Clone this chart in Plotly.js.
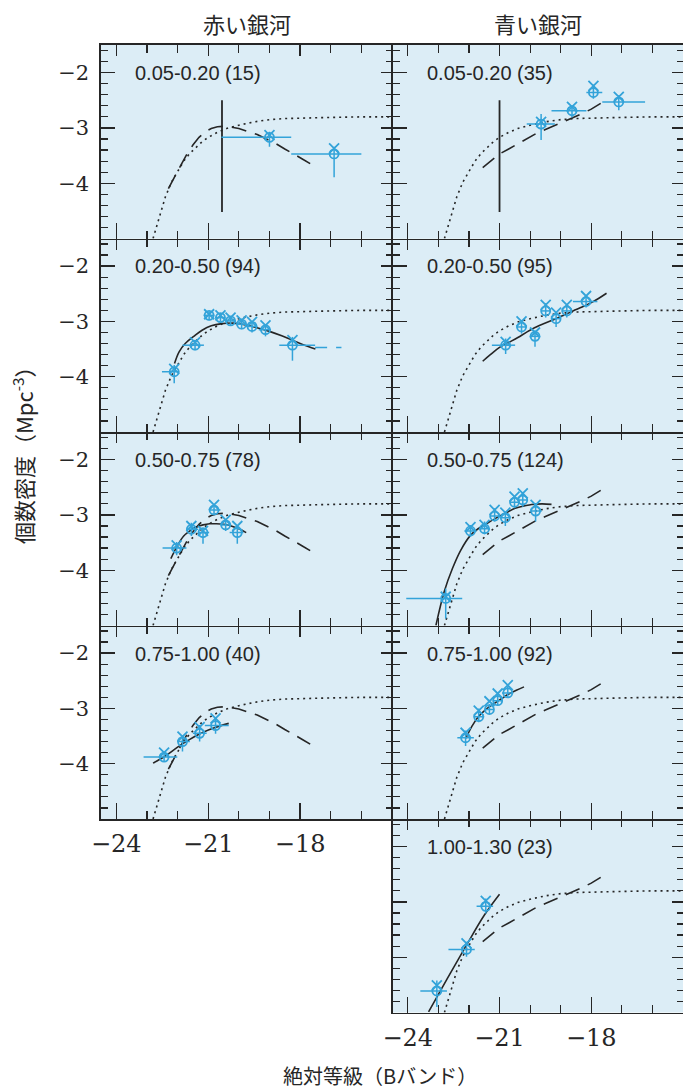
<!DOCTYPE html>
<html><head><meta charset="utf-8">
<script src="https://cdn.plot.ly/plotly-3.0.1.min.js"></script>
<style>html,body{margin:0;padding:0;background:#fff;}#chart{width:683px;height:1090px;}</style>
</head><body><div id="chart"></div>
<script>
// ---------- data ----------
const panelLabels = ["0.05-0.20 (15)","0.05-0.20 (35)","0.20-0.50 (94)","0.20-0.50 (95)","0.50-0.75 (78)","0.50-0.75 (124)","0.75-1.00 (40)","0.75-1.00 (92)","1.00-1.30 (23)"];
const columnTitles = ["赤い銀河","青い銀河"];
const xTitle = "絶対等級（Bバンド）";
const yTitle = "個数密度（Mpc<sup>-3</sup>）";
const xTicks = [-24,-21,-18];
const yTicks = [-2,-3,-4];

// local reference luminosity function (dotted)
const schM   = [-22.8,-22.6,-22.4,-22.2,-22.0,-21.8,-21.6,-21.4,-21.2,-21.0,-20.7,-20.4,-20.0,-19.5,-19.0,-18.5,-18.0,-17.0,-16.0,-15.0];
const schPhi = [-5.0,-4.6,-4.25,-3.98,-3.78,-3.6,-3.46,-3.35,-3.25,-3.17,-3.08,-3.01,-2.95,-2.89,-2.85,-2.83,-2.82,-2.81,-2.80,-2.80];
// red reference (dashed)
const redRefM   = [-22.3,-22.1,-21.9,-21.7,-21.5,-21.3,-21.1,-20.9,-20.7,-20.5,-20.3,-20.0,-19.7,-19.4,-19.1,-18.8,-18.5,-18.2,-17.9,-17.6];
const redRefPhi = [-4.1,-3.88,-3.68,-3.48,-3.31,-3.17,-3.07,-3.01,-2.98,-2.97,-2.98,-3.01,-3.06,-3.12,-3.2,-3.28,-3.38,-3.47,-3.57,-3.67];
// blue reference (dashed) = blue 0.20-0.50 fit
const blueRefM   = [-21.55,-21.3,-21.0,-20.7,-20.4,-20.1,-19.8,-19.5,-19.2,-18.9,-18.6,-18.3,-18.0,-17.75,-17.5];
const blueRefPhi = [-3.72,-3.6,-3.47,-3.38,-3.29,-3.19,-3.1,-3.03,-2.96,-2.89,-2.81,-2.74,-2.66,-2.58,-2.49];
// solid fits
const r2FitM   = [-22.1,-21.95,-21.75,-21.45,-21.2,-20.9,-20.55,-20.2,-19.9,-19.5,-19.0,-18.6,-18.25,-17.9,-17.5];
const r2FitPhi = [-3.76,-3.55,-3.40,-3.26,-3.16,-3.08,-3.04,-3.03,-3.05,-3.1,-3.18,-3.26,-3.34,-3.42,-3.5];
const r3FitM   = [-22.22,-22.0,-21.8,-21.6,-21.4,-21.17,-20.95,-20.73,-20.5,-20.3,-20.0,-19.76];
const r3FitPhi = [-3.79,-3.55,-3.38,-3.29,-3.22,-3.18,-3.16,-3.16,-3.17,-3.19,-3.25,-3.32];
const r4FitM   = [-22.8,-22.4,-22.0,-21.6,-21.2,-20.8,-20.33];
const r4FitPhi = [-3.99,-3.86,-3.70,-3.56,-3.44,-3.35,-3.27];
const b3FitM   = [-23.08,-22.81,-22.54,-22.27,-21.95,-21.7,-21.46,-21.03,-20.75,-20.49,-20.2,-19.95,-19.6,-19.3];
const b3FitPhi = [-5.0,-4.39,-3.97,-3.64,-3.37,-3.25,-3.17,-3.03,-2.95,-2.88,-2.84,-2.81,-2.80,-2.81];
const b4FitM   = [-22.1,-21.9,-21.68,-21.45,-21.2,-20.95,-20.7,-20.45,-20.2];
const b4FitPhi = [-3.54,-3.32,-3.14,-3.02,-2.92,-2.83,-2.74,-2.67,-2.61];
const b5FitM   = [-23.32,-22.7,-22.1,-21.5,-21.0];
const b5FitPhi = [-4.99,-4.38,-3.8,-3.24,-2.86];
// magnitude limits (vertical black lines, top row)
const limitM = [-20.55,-21.0];
const limitPhi = [-2.5,-4.52];
// extra dashed x-range for last red 0.20-0.50 point
const r2ExtM = [-17.51,-16.65];
const r2ExtPhi = [-3.47,-3.47];

// data points: M, logPhi (circle), logPhi (cross), bin edges, error edges
const r1M=[-19.0,-16.89], r1Phi=[-3.17,-3.47], r1PhiX=[-3.13,-3.37], r1MLo=[-20.57,-18.29], r1MHi=[-18.29,-16.0], r1PLo=[-3.34,-3.89], r1PHi=[-3.07,-3.34];
const b1M=[-19.64,-18.63,-17.93,-17.1], b1Phi=[-2.93,-2.69,-2.36,-2.53], b1PhiX=[-2.89,-2.62,-2.24,-2.44], b1MLo=[-20.11,-19.3,-18.16,-17.64], b1MHi=[-19.19,-18.16,-17.64,-16.24], b1PLo=[-3.22,-2.81,-2.47,-2.68], b1PHi=[-2.75,-2.59,-2.22,-2.41];
const r2M=[-22.11,-21.43,-20.97,-20.6,-20.27,-19.91,-19.57,-19.13,-18.25], r2Phi=[-3.91,-3.43,-2.89,-2.93,-2.99,-3.05,-3.09,-3.15,-3.43], r2PhiX=[-3.86,-3.38,-2.87,-2.89,-2.93,-2.98,-3.01,-3.07,-3.34];
const r2MLo=[-22.51,-21.84,-21.15,-20.78,-20.45,-20.1,-19.77,-19.35,-18.68], r2MHi=[-21.95,-21.14,-20.8,-20.44,-20.1,-19.75,-19.4,-18.95,-17.51], r2PLo=[-4.12,-3.52,-2.98,-3.0,-3.07,-3.14,-3.2,-3.27,-3.71], r2PHi=[-3.79,-3.34,-2.82,-2.86,-2.92,-2.95,-3.0,-3.05,-3.28];
const b2M=[-20.8,-20.28,-19.84,-19.49,-19.15,-18.8,-18.17], b2Phi=[-3.43,-3.10,-3.27,-2.81,-2.95,-2.81,-2.64], b2PhiX=[-3.37,-3.0,-3.2,-2.70,-2.84,-2.70,-2.54];
const b2MLo=[-21.25,-20.45,-20.0,-19.65,-19.3,-18.97,-18.6], b2MHi=[-20.49,-20.1,-19.68,-19.33,-19.0,-18.63,-17.8], b2PLo=[-3.59,-3.22,-3.46,-2.93,-3.10,-2.93,-2.75], b2PHi=[-3.31,-2.98,-3.16,-2.67,-2.83,-2.70,-2.52];
const r3M=[-22.03,-21.55,-21.17,-20.81,-20.43,-20.05], r3Phi=[-3.60,-3.26,-3.32,-2.91,-3.18,-3.32], r3PhiX=[-3.55,-3.20,-3.29,-2.82,-3.09,-3.20];
const r3MLo=[-22.49,-21.71,-21.33,-20.97,-20.6,-20.3], r3MHi=[-21.71,-21.33,-20.97,-20.6,-20.25,-19.85], r3PLo=[-3.73,-3.38,-3.52,-3.0,-3.29,-3.52], r3PHi=[-3.49,-3.14,-3.24,-2.82,-3.09,-3.21];
const b3M=[-22.76,-21.95,-21.49,-21.16,-20.81,-20.51,-20.24,-19.82], b3Phi=[-4.51,-3.29,-3.25,-3.02,-3.05,-2.77,-2.73,-2.93], b3PhiX=[-4.48,-3.22,-3.18,-2.91,-2.96,-2.67,-2.61,-2.82];
const b3MLo=[-24.05,-22.15,-21.65,-21.3,-20.97,-20.65,-20.38,-20.0], b3MHi=[-22.22,-21.75,-21.33,-21.0,-20.65,-20.38,-20.1,-19.62], b3PLo=[-4.88,-3.4,-3.35,-3.12,-3.2,-2.88,-2.85,-3.12], b3PHi=[-4.33,-3.18,-3.12,-2.88,-2.94,-2.66,-2.6,-2.79];
const r4M=[-22.44,-21.84,-21.28,-20.76], r4Phi=[-3.88,-3.60,-3.45,-3.31], r4PhiX=[-3.80,-3.51,-3.34,-3.18];
const r4MLo=[-23.11,-22.01,-21.5,-21.11], r4MHi=[-22.01,-21.6,-21.05,-20.33], r4PLo=[-3.96,-3.78,-3.6,-3.46], r4PHi=[-3.78,-3.49,-3.3,-3.16];
const b4M=[-22.11,-21.68,-21.33,-21.06,-20.73], b4Phi=[-3.53,-3.15,-3.02,-2.86,-2.72], b4PhiX=[-3.44,-3.04,-2.87,-2.73,-2.58];
const b4MLo=[-22.38,-21.85,-21.5,-21.22,-20.92], b4MHi=[-21.84,-21.5,-21.2,-20.9,-20.55], b4PLo=[-3.68,-3.25,-3.1,-2.95,-2.8], b4PHi=[-3.40,-3.0,-2.92,-2.75,-2.6];
const b5M=[-23.05,-22.08,-21.45], b5Phi=[-4.61,-3.86,-3.08], b5PhiX=[-4.51,-3.75,-2.98];
const b5MLo=[-23.59,-22.67,-21.75], b5MHi=[-22.72,-21.81,-21.21], b5PLo=[-4.90,-3.99,-3.21], b5PHi=[-4.42,-3.72,-2.94];

// ---------- layout helpers ----------
const W=683, H=1090;
const colPx = [[101,392],[392.5,683]];
const rowPx = [[45,238.5],[238.5,432],[432,625.5],[625.5,819],[819,1012.5]];
const BLUE = '#33a3d9', INK = '#262626';
const px2x = p => p/W, py2y = p => 1 - p/H;
const XR = [-24.5,-15], YR = [-5,-1.5];

const panels = [
  {col:0,row:0,pts:[r1M,r1Phi,r1PhiX,r1MLo,r1MHi,r1PLo,r1PHi], dash:[redRefM,redRefPhi], solid:null, limit:0},
  {col:1,row:0,pts:[b1M,b1Phi,b1PhiX,b1MLo,b1MHi,b1PLo,b1PHi], dash:[blueRefM,blueRefPhi], solid:null, limit:1},
  {col:0,row:1,pts:[r2M,r2Phi,r2PhiX,r2MLo,r2MHi,r2PLo,r2PHi], dash:null, solid:[r2FitM,r2FitPhi], ext:[r2ExtM,r2ExtPhi]},
  {col:1,row:1,pts:[b2M,b2Phi,b2PhiX,b2MLo,b2MHi,b2PLo,b2PHi], dash:null, solid:[blueRefM,blueRefPhi]},
  {col:0,row:2,pts:[r3M,r3Phi,r3PhiX,r3MLo,r3MHi,r3PLo,r3PHi], dash:[redRefM,redRefPhi], solid:[r3FitM,r3FitPhi]},
  {col:1,row:2,pts:[b3M,b3Phi,b3PhiX,b3MLo,b3MHi,b3PLo,b3PHi], dash:[blueRefM,blueRefPhi], solid:[b3FitM,b3FitPhi]},
  {col:0,row:3,pts:[r4M,r4Phi,r4PhiX,r4MLo,r4MHi,r4PLo,r4PHi], dash:[redRefM,redRefPhi], solid:[r4FitM,r4FitPhi], xlabels:true},
  {col:1,row:3,pts:[b4M,b4Phi,b4PhiX,b4MLo,b4MHi,b4PLo,b4PHi], dash:[blueRefM,blueRefPhi], solid:[b4FitM,b4FitPhi]},
  {col:1,row:4,pts:[b5M,b5Phi,b5PhiX,b5MLo,b5MHi,b5PLo,b5PHi], dash:[blueRefM,blueRefPhi], solid:[b5FitM,b5FitPhi], xlabels:true}
];
const NP = panels.length;

const traces = [];
const layout = {
  width: W, height: H, margin:{l:0,r:0,t:0,b:0},
  paper_bgcolor:'#ffffff', plot_bgcolor:'#dcedf6', showlegend:false,
  annotations: [], font:{family:'Liberation Sans', color:INK}
};
const aname = (c,n) => (n===1 ? c+'axis' : c+'axis'+n);
const aid = (c,n) => (n===1 ? c : c+n);

function tickAxis(extra){
  return Object.assign({showgrid:false, zeroline:false, ticks:'inside', tickcolor:INK, tickwidth:1.3,
    linecolor:INK, linewidth:1.6, mirror:false, showticklabels:false}, extra);
}

panels.forEach((p,i)=>{
  const k = i+1, xs = aid('x',k), ys = aid('y',k);
  const cx = colPx[p.col], ry = rowPx[p.row];
  const xdom = [px2x(cx[0]), px2x(cx[1])], ydom = [py2y(ry[1]), py2y(ry[0])];
  const kTop = k+NP, kMinA = k+2*NP, kMinB = k+3*NP;
  // main axes: bottom x / left y with major ticks (+labels where the reference has them)
  layout[aname('x',k)] = tickAxis({domain:xdom, anchor:ys, range:XR, side:'bottom', showline:true,
    tickmode:'array', tickvals:xTicks, ticklen:16, showticklabels:!!p.xlabels, ticklabelstandoff:3,
    tickfont:{family:'DejaVu Serif', size:24, color:INK}});
  layout[aname('y',k)] = tickAxis({domain:ydom, anchor:xs, range:YR, side:'left', showline:true,
    tickmode:'array', tickvals:yTicks, ticklen:14, showticklabels:p.col===0, ticklabelstandoff:6,
    tickfont:{family:'DejaVu Serif', size:21, color:INK}});
  // top x / right y major ticks
  layout[aname('x',kTop)] = tickAxis({domain:xdom, overlaying:xs, anchor:ys, range:XR, side:'top',
    showline:(p.row===0), tickmode:'array', tickvals:xTicks, ticklen:11});
  layout[aname('y',kTop)] = tickAxis({domain:ydom, overlaying:ys, anchor:xs, range:YR, side:'right',
    showline:(p.col===1), tickmode:'array', tickvals:yTicks, ticklen:11});
  // minor ticks bottom/left
  layout[aname('x',kMinA)] = tickAxis({domain:xdom, overlaying:xs, anchor:ys, range:XR, side:'bottom',
    showline:false, tickmode:'linear', tick0:-24, dtick:1, ticklen:8, tickwidth:1.2});
  layout[aname('y',kMinA)] = tickAxis({domain:ydom, overlaying:ys, anchor:xs, range:YR, side:'left',
    showline:false, tickmode:'linear', tick0:-5, dtick:0.2, ticklen:7, tickwidth:1.2});
  // minor ticks top/right
  layout[aname('x',kMinB)] = tickAxis({domain:xdom, overlaying:xs, anchor:ys, range:XR, side:'top',
    showline:false, tickmode:'linear', tick0:-24, dtick:1, ticklen:8, tickwidth:1.2});
  layout[aname('y',kMinB)] = tickAxis({domain:ydom, overlaying:ys, anchor:xs, range:YR, side:'right',
    showline:false, tickmode:'linear', tick0:-5, dtick:0.2, ticklen:6, tickwidth:1.2});
  [kTop,kMinA,kMinB].forEach(n => traces.push({x:[null], y:[null], xaxis:aid('x',n), yaxis:aid('y',n), mode:'markers', hoverinfo:'skip'}));

  // dotted reference
  traces.push({x:schM, y:schPhi, xaxis:xs, yaxis:ys, mode:'lines', line:{color:INK, width:1.6, dash:'2px,4px'}, hoverinfo:'skip'});
  if (p.dash) traces.push({x:p.dash[0], y:p.dash[1], xaxis:xs, yaxis:ys, mode:'lines', line:{color:INK, width:1.6, dash:'15px,9px'}, hoverinfo:'skip'});
  if (p.solid) traces.push({x:p.solid[0], y:p.solid[1], xaxis:xs, yaxis:ys, mode:'lines', line:{color:INK, width:1.6, shape:'spline'}, hoverinfo:'skip'});
  if (p.limit !== undefined) traces.push({x:[limitM[p.limit],limitM[p.limit]], y:limitPhi, xaxis:xs, yaxis:ys, mode:'lines', line:{color:INK, width:1.8}, hoverinfo:'skip'});
  if (p.ext) traces.push({x:p.ext[0], y:p.ext[1], xaxis:xs, yaxis:ys, mode:'lines', line:{color:BLUE, width:1.5, dash:'12px,9px'}, hoverinfo:'skip'});
  const [M, P, PX, MLo, MHi, PLo, PHi] = p.pts;
  traces.push({
    x:M, y:P, xaxis:xs, yaxis:ys, mode:'markers',
    marker:{symbol:'circle-open', size:9, color:BLUE, line:{width:1.8, color:BLUE}},
    error_x:{type:'data', symmetric:false, array:M.map((m,j)=>MHi[j]-m), arrayminus:M.map((m,j)=>m-MLo[j]), color:BLUE, thickness:1.5, width:0},
    error_y:{type:'data', symmetric:false, array:P.map((v,j)=>PHi[j]-v), arrayminus:P.map((v,j)=>v-PLo[j]), color:BLUE, thickness:1.5, width:0},
    hoverinfo:'skip'
  });
  traces.push({x:M, y:PX, xaxis:xs, yaxis:ys, mode:'markers',
    marker:{symbol:'x-thin-open', size:10, color:BLUE, line:{width:1.8, color:BLUE}}, hoverinfo:'skip'});
  // panel label
  layout.annotations.push({xref:'paper', yref:'paper', x:px2x(cx[0]+32), y:py2y(ry[0]+28), xanchor:'left', yanchor:'middle',
    text:panelLabels[i], showarrow:false, font:{family:'Liberation Sans', size:20, color:INK}});
});

layout.annotations.push(
  {xref:'paper', yref:'paper', x:px2x(246.5), y:py2y(23), xanchor:'center', yanchor:'middle', text:columnTitles[0], showarrow:false, font:{family:'Noto Sans CJK JP', size:22, color:INK}},
  {xref:'paper', yref:'paper', x:px2x(537.5), y:py2y(23), xanchor:'center', yanchor:'middle', text:columnTitles[1], showarrow:false, font:{family:'Noto Sans CJK JP', size:22, color:INK}},
  {xref:'paper', yref:'paper', x:px2x(380), y:py2y(1075), xanchor:'center', yanchor:'middle', text:xTitle, showarrow:false, font:{family:'Noto Sans CJK JP', size:20, color:INK}},
  {xref:'paper', yref:'paper', x:px2x(23), y:py2y(450), xanchor:'center', yanchor:'middle', text:yTitle, textangle:-90, showarrow:false, font:{family:'Noto Sans CJK JP', size:22, color:INK}}
);

Plotly.newPlot('chart', traces, layout, {staticPlot:true});
</script></body></html>
